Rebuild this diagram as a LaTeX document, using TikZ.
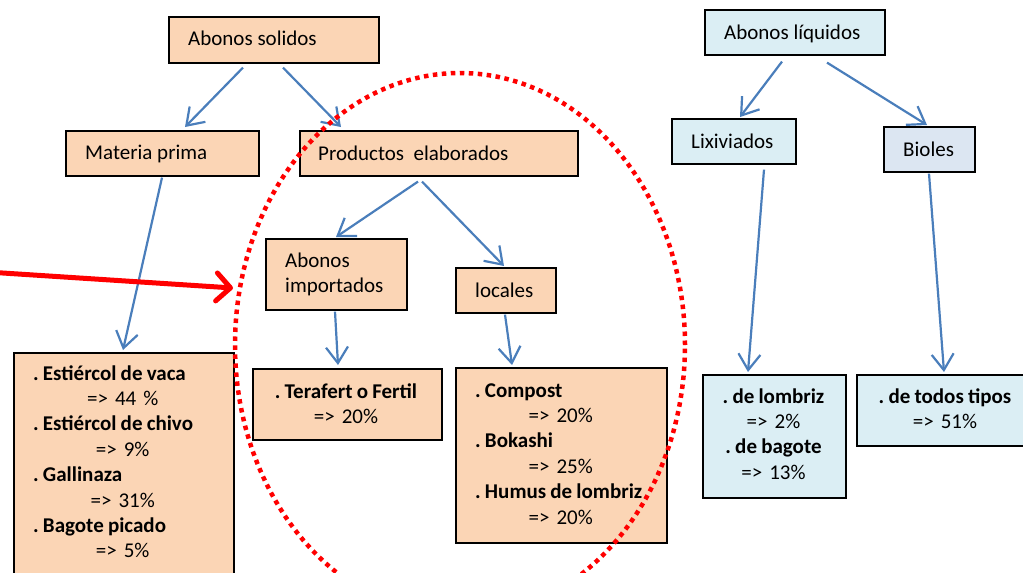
\documentclass[tikz,border=0pt]{standalone}
\usepackage{fontspec}
\setmainfont{Carlito}
\usetikzlibrary{arrows.meta}
\setlength{\parindent}{0pt}
\frenchspacing
\definecolor{orfill}{HTML}{FBD5B5}
\definecolor{aqfill}{HTML}{DBEEF4}
\definecolor{bifill}{HTML}{DCE6F2}
\definecolor{arrblue}{HTML}{4A7EBB}
\newcommand\ctrline[2]{\makebox[#1][c]{#2}}
\newcommand\bt[1]{{\bfseries\spaceskip=0.2em\relax #1}}
\tikzset{
  bx/.style={draw=black, line width=1.6pt, inner sep=0pt, anchor=north west},
  obx/.style={bx, fill=orfill},
  abx/.style={bx, fill=aqfill},
  tx/.style={font=\fontsize{21}{25.4}\selectfont\frenchspacing, inner sep=0pt},
  arr/.style={draw=arrblue, line width=2.2pt, -{Straight Barb[length=16pt,width=22pt]}},
}
\begin{document}
\begin{tikzpicture}[x=1pt,y=-1pt]
\useasboundingbox (0,0) rectangle (1023,573);
\clip (0,0) rectangle (1023,573);
% boxes
\node[obx, minimum width=210pt, minimum height=46pt] (sol) at (168,16) {};
\node[obx, minimum width=193pt, minimum height=45pt] (mat) at (65,130) {};
\node[obx, minimum width=278pt, minimum height=45pt] (pro) at (299,130) {};
\node[obx, minimum width=141pt, minimum height=71pt] (imp) at (265,238) {};
\node[obx, minimum width=100pt, minimum height=45pt] (loc) at (455,267) {};
\node[obx, minimum width=189pt, minimum height=71pt] (ter) at (252,368) {};
\node[obx, minimum width=211pt, minimum height=175pt] (com) at (455,367) {};
\node[obx, minimum width=220pt, minimum height=240pt] (est) at (13,352) {};
\node[abx, minimum width=180pt, minimum height=45pt] (liq) at (704,9) {};
\node[abx, minimum width=124pt, minimum height=45pt] (lix) at (671,118) {};
\node[bx, fill=bifill, minimum width=91pt, minimum height=45pt] (bio) at (883,126) {};
\node[abx, minimum width=143pt, minimum height=123pt] (lom) at (702,374) {};
\node[abx, minimum width=178pt, minimum height=71pt] (tod) at (856,374) {};
% texts
\node[tx, anchor=base west] (tsol) at (188,45) {Abonos solidos};
\node[tx, anchor=base west] (tmat) at (85,159) {Materia prima};
\node[tx, anchor=base west] (tpro) at (318,160) {Productos\ \ elaborados};
\node[tx, anchor=base west, text width=120pt, align=left] (timp) at (285,267) {Abonos\\importados};
\node[tx, anchor=base west] (tloc) at (475,297) {locales};
\node[tx, anchor=base, text width=185pt, align=center] (tter) at (346,398) {\bt{. Terafert o Fertil}\\=> 20\%};
\node[tx, anchor=base west, text width=200pt, align=left] (tcom) at (475,397)
  {\bt{. Compost}\\\ctrline{171pt}{=> 20\%}\\\bt{. Bokashi}\\\ctrline{171pt}{=> 25\%}\\\bt{. Humus de lombriz}\\\ctrline{171pt}{=> 20\%}};
\node[tx, anchor=base west, text width=200pt, align=left] (test) at (33,380)
  {\bt{. Estiércol de vaca}\\\ctrline{179pt}{=> 44 \%}\\\bt{. Estiércol de chivo}\\\ctrline{179pt}{=> 9\%}\\\bt{. Gallinaza}\\\ctrline{179pt}{=> 31\%}\\\bt{. Bagote picado}\\\ctrline{179pt}{=> 5\%}};
\node[tx, anchor=base west] (tliq) at (724,39) {Abonos líquidos};
\node[tx, anchor=base west] (tlix) at (691,148) {Lixiviados};
\node[tx, anchor=base west] (tbio) at (903,156) {Bioles};
\node[tx, anchor=base, text width=140pt, align=center] (tlom) at (773.5,403) {\bt{. de lombriz}\\=> 2\%\\\bt{. de bagote}\\=> 13\%};
\node[tx, anchor=base, text width=170pt, align=center] (ttod) at (945,403) {\bt{. de todos tipos}\\=> 51\%};
% blue arrows
\draw[arr] ([xshift=75pt,yshift=-4pt]sol.south west) -- ([xshift=120pt,yshift=3pt]mat.north west);
\draw[arr] ([xshift=115pt,yshift=-4pt]sol.south west) -- ([xshift=42pt,yshift=3pt]pro.north west);
\draw[arr] ([xshift=97pt,yshift=-1pt]mat.south west) -- ([xshift=110pt,yshift=2pt]est.north west);
\draw[arr] ([xshift=119pt,yshift=-5pt]pro.south west) -- ([xshift=71pt,yshift=1pt]imp.north west);
\draw[arr] ([xshift=123pt,yshift=-5pt]pro.south west) -- ([xshift=49pt,yshift=1pt]loc.north west);
\draw[arr] ([xshift=70pt,yshift=-1pt]imp.south west) -- ([xshift=86pt,yshift=3pt]ter.north west);
\draw[arr] ([xshift=50pt,yshift=-1pt]loc.south west) -- ([xshift=57pt,yshift=2pt]com.north west);
\draw[arr] ([xshift=78pt,yshift=-6pt]liq.south west) -- ([xshift=69pt,yshift=1pt]lix.north west);
\draw[arr] ([xshift=123pt,yshift=-7pt]liq.south west) -- ([xshift=44pt,yshift=1pt]bio.north west);
\draw[arr] ([xshift=93pt,yshift=-5pt]lix.south west) -- ([xshift=46pt,yshift=2pt]lom.north west);
\draw[arr] ([xshift=46pt,yshift=-1pt]bio.south west) -- ([xshift=88pt,yshift=2pt]tod.north west);
% red arrow and dotted ellipse
\coordinate (rs) at (-5,272.5);
\coordinate (re) at (233,288);
\draw[red, line width=5pt, line cap=round, -{Straight Barb[length=14pt,width=28pt,round]}] (rs) -- (re);
\draw[red, line width=4.5pt, dash pattern=on 4.5pt off 4.5pt] (460,345) ellipse [x radius=225pt, y radius=272pt];
\end{tikzpicture}
\end{document}
